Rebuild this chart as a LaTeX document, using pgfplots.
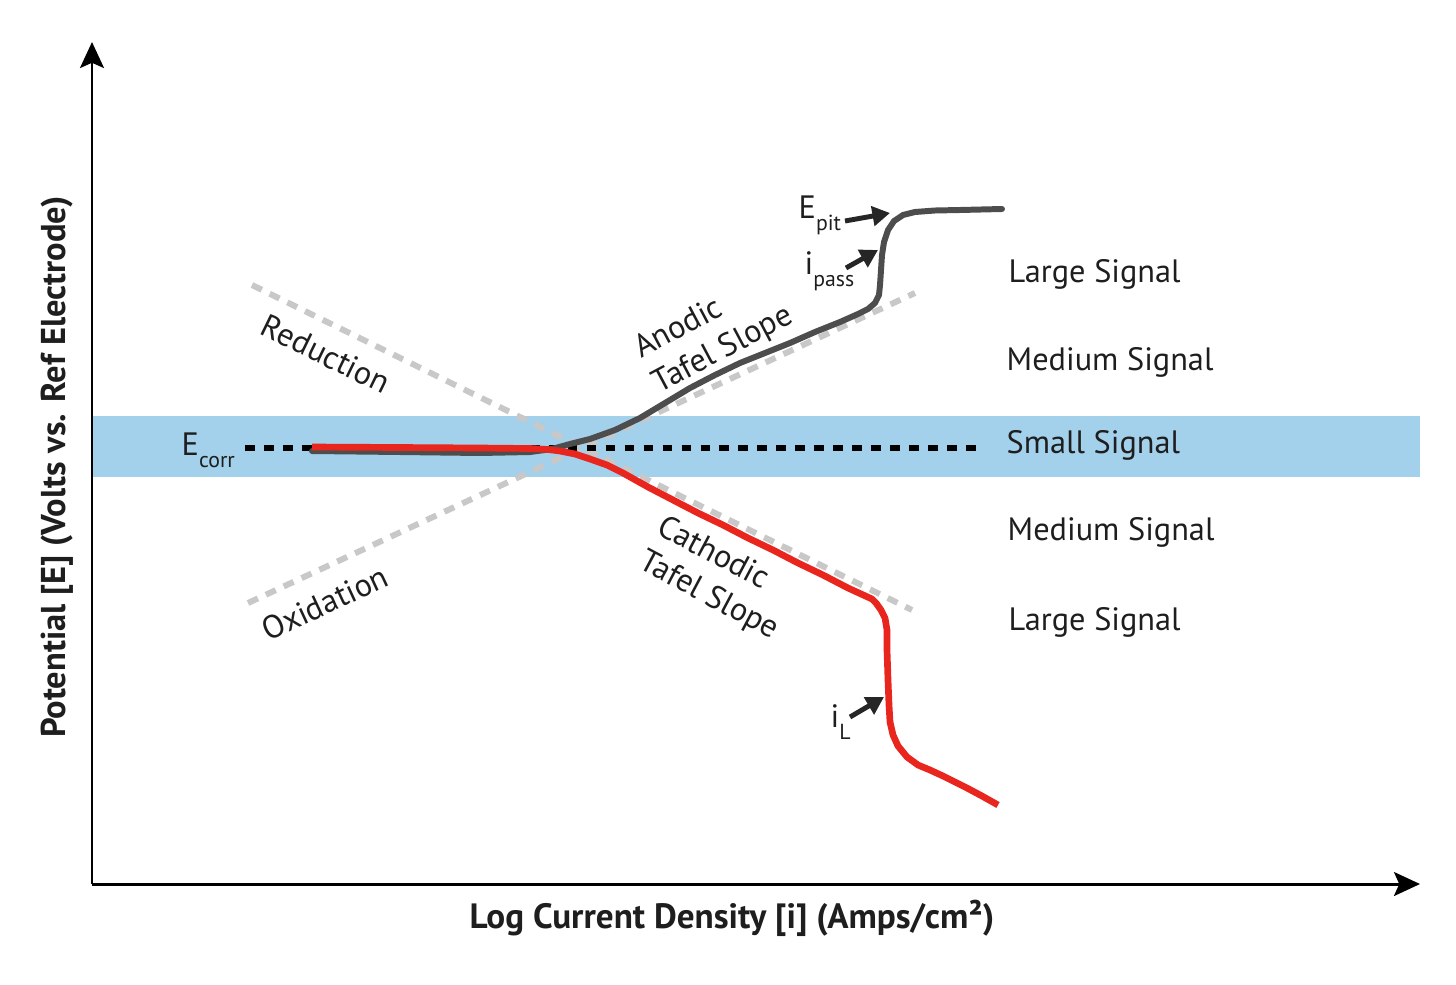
\documentclass[border=0pt]{standalone}
\usepackage{pgfplots}
\pgfplotsset{compat=1.18}
\usepackage{fontspec}
\setmainfont{PT Sans}
\usetikzlibrary{arrows.meta}
\definecolor{band}{RGB}{163,208,234}
\definecolor{tafgrey}{RGB}{200,200,200}
\definecolor{anod}{RGB}{77,77,77}
\definecolor{cath}{RGB}{232,38,30}
\definecolor{arr}{RGB}{38,38,38}
\definecolor{txt}{RGB}{30,30,30}
\newcommand{\lbl}{\fontsize{9.2}{11.2}\selectfont}
\newcommand{\sub}[1]{\raisebox{-3.6pt}{\fontsize{6.2}{7}\selectfont #1}}
\begin{document}
\begin{tikzpicture}
\begin{axis}[scale only axis, width=14.56cm, height=9.84cm,
  xmin=0, xmax=1456, ymin=0, ymax=984, y dir=reverse,
  hide axis, clip=false]
\path (axis cs:0,0) rectangle (axis cs:1456,984);
% small-signal band
\fill[band] (axis cs:92,416) rectangle (axis cs:1420,477);
% Tafel extrapolation lines
\addplot[tafgrey, line width=1.7pt, dash pattern=on 3.1pt off 2.5pt] coordinates {(252,285) (912,610)};
\addplot[tafgrey, line width=1.7pt, dash pattern=on 3.1pt off 2.5pt] coordinates {(248,603) (915,293)};
% Ecorr dotted line
\addplot[black, line width=1.7pt, dash pattern=on 2.8pt off 2.6pt] coordinates {(245,448) (980,448)};
% anodic curve
\addplot[anod, line width=1.7pt, line join=round, line cap=round] coordinates {
(312,451) (400,452) (480,453) (530,452) (552,449) (570,444) (590,439) (615,430)
(640,418) (665,403) (690,388) (715,375) (740,363) (765,353) (790,343) (815,332)
(840,322) (858,314) (868,309) (875,303) (879,295) (880,285) (881,270) (882,255)
(884,242) (888,230) (894,221) (903,215) (915,212) (935,210.5) (960,210) (1002,209)};
% cathodic curve
\addplot[cath, line width=1.9pt, line join=round] coordinates {
(312,447) (400,447.5) (480,448) (530,448.5) (548,449.5) (560,451) (575,454) (590,459)
(607,465) (623,473) (648,487) (673,500) (698,513) (723,525) (748,538) (773,550)
(798,563) (823,575) (848,588) (872,599) (876,603) (881,610) (885,618) (887,630)
(887,650) (888,680) (889,705) (890,722) (893,735) (898,746) (907,757) (918,765)
(930,770) (943,776) (955,782) (967,788) (982,796) (998,805)};
% axes
\draw[black, line width=0.85pt, -{Stealth[length=7.4pt,width=6.8pt,inset=1.5pt]}] (axis cs:92,884) -- (axis cs:92,42);
\draw[black, line width=0.85pt, -{Stealth[length=7.4pt,width=6.8pt,inset=1.5pt]}] (axis cs:91.6,884) -- (axis cs:1420,884);
% pointer arrows
\draw[arr, line width=1.4pt, -{Triangle[length=5pt,width=5.5pt]}] (axis cs:845,221) -- (axis cs:890,213);
\draw[arr, line width=1.4pt, -{Triangle[length=5pt,width=5.5pt]}] (axis cs:846,268) -- (axis cs:878,250);
\draw[arr, line width=1.4pt, -{Triangle[length=5pt,width=5.5pt]}] (axis cs:850,717) -- (axis cs:884,697);
% labels
\node[txt, anchor=base west, inner sep=0pt, font=\lbl] at (axis cs:181,455) {E\sub{corr}};
\node[txt, anchor=base west, inner sep=0pt, font=\lbl] at (axis cs:798,218) {E\sub{pit}};
\node[txt, anchor=base west, inner sep=0pt, font=\lbl] at (axis cs:804,274) {i\sub{pass}};
\node[txt, anchor=base west, inner sep=0pt, font=\lbl] at (axis cs:830,727) {i\sub{L}};
\node[txt, rotate=-26, font=\lbl] at (axis cs:326,354) {Reduction};
\node[txt, rotate=25, font=\lbl] at (axis cs:325,603) {Oxidation};
\node[txt, rotate=28, font=\lbl, align=left] at (axis cs:714,333) {Anodic\\Tafel Slope};
\node[txt, rotate=-28, font=\lbl, align=left] at (axis cs:718,579) {Cathodic\\Tafel Slope};
\node[txt, anchor=base west, inner sep=0pt, font=\lbl] at (axis cs:1008,282) {Large Signal};
\node[txt, anchor=base west, inner sep=0pt, font=\lbl] at (axis cs:1006,370) {Medium Signal};
\node[txt, anchor=base west, inner sep=0pt, font=\lbl] at (axis cs:1006,453) {Small Signal};
\node[txt, anchor=base west, inner sep=0pt, font=\lbl] at (axis cs:1007,540) {Medium Signal};
\node[txt, anchor=base west, inner sep=0pt, font=\lbl] at (axis cs:1008,630) {Large Signal};
\node[txt, font=\fontsize{10}{12}\selectfont\bfseries] at (axis cs:732,918) {Log Current Density [i] (Amps/cm²)};
\node[txt, rotate=90, font=\fontsize{9.8}{11}\selectfont\bfseries] at (axis cs:57,467) {Potential [E] (Volts vs. Ref Electrode)};
\end{axis}
\end{tikzpicture}
\end{document}
